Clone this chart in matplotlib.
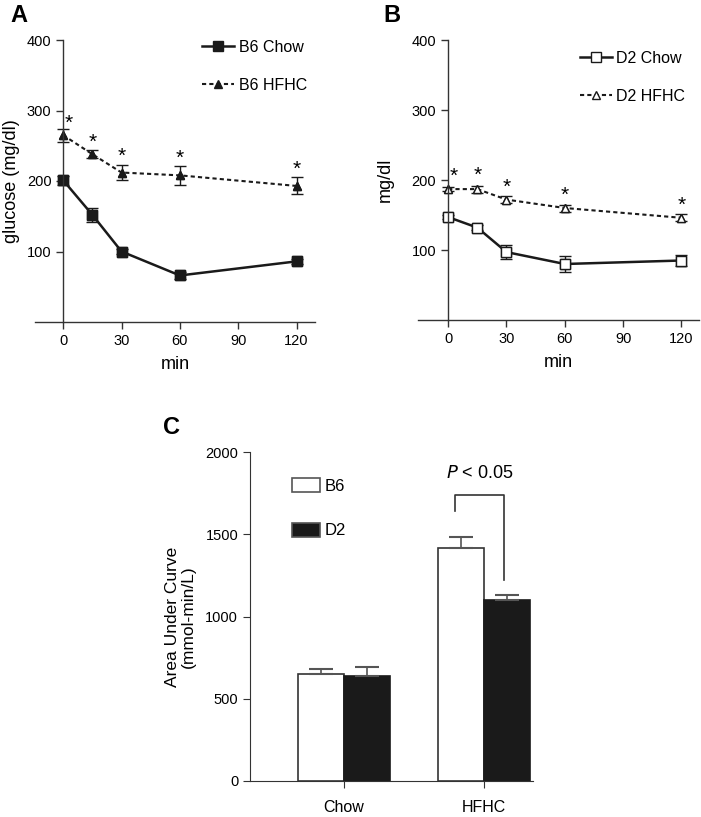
import numpy as np
import matplotlib.pyplot as plt

plt.rcParams['font.family'] = ['Liberation Sans', 'DejaVu Sans']

# time course (min)
t = [0, 15, 30, 60, 120]

# panel A: B6
b6_chow = [201, 152, 100, 66, 86]
b6_chow_err = [6, 10, 3, 5, 4]
b6_hfhc = [265, 238, 212, 208, 193]
b6_hfhc_err = [9, 6, 11, 13, 12]

# panel B: D2
d2_chow = [147, 132, 97, 80, 85]
d2_chow_err = [3, 4, 10, 12, 8]
d2_hfhc = [187, 187, 172, 160, 146]
d2_hfhc_err = [3, 5, 5, 5, 5]

# panel C: AUC
groups = ['Chow', 'HFHC']
auc_b6 = [650, 1417]
auc_b6_err = [30, 67]
auc_d2 = [638, 1098]
auc_d2_err = [55, 35]

fig = plt.figure(figsize=(7.01, 8.17), dpi=100)


def time_axes(ax, xlo, xhi):
    ax.set_xlim(xlo, xhi)
    ax.set_ylim(0, 400)
    ax.spines['top'].set_visible(False)
    ax.spines['right'].set_visible(False)
    ax.spines['left'].set_position(('data', 0))
    for s in ['left', 'bottom']:
        ax.spines[s].set_color('#333333')
        ax.spines[s].set_linewidth(1.0)
    ax.set_xticks([0, 30, 60, 90, 120])
    ax.set_yticks([100, 200, 300, 400])
    ax.tick_params(axis='both', labelsize=10.5, color='#333333', length=5,
                   width=1.0, direction='out')
    ax.set_xlabel('min', fontsize=13, labelpad=6)


def stars(ax, x, y, err):
    for xi, yi, ei in zip(x, y, err):
        ax.text(xi, yi + ei - 2, '*', ha='center', va='bottom', fontsize=15)


def draw_series(ax, y, err, marker, ms, mfc, ls, lw, label):
    ax.errorbar(t, y, yerr=err, color='#1a1a1a', marker=marker, ms=ms, mfc=mfc,
                ls='none', capsize=4, elinewidth=1, capthick=1)
    h, = ax.plot(t, y, color='#1a1a1a', marker=marker, ms=ms, mfc=mfc, ls=ls,
                 lw=lw, label=label)
    return h


# ---- A ----
axA = fig.add_axes([35 / 701, 1 - 322 / 817, 280 / 701, 282 / 817])
time_axes(axA, -14.5, 129.5)
draw_series(axA, b6_chow, b6_chow_err, 's', 6.5, '#1a1a1a', '-', 1.8, 'B6 Chow')
draw_series(axA, b6_hfhc, b6_hfhc_err, '^', 5.5, '#1a1a1a', (0, (2, 1.5)), 1.5, 'B6 HFHC')
stars(axA, [t[0] + 3] + t[1:], b6_hfhc, [6] + b6_hfhc_err[1:])
axA.set_ylabel('glucose (mg/dl)', fontsize=13)
axA.yaxis.set_label_coords(-0.055, 0.5)
axA.legend(loc='upper right', frameon=False, fontsize=11.5, handlelength=2.0,
           labelspacing=1.45, borderaxespad=0.1, handletextpad=0.3,
           bbox_to_anchor=(1.0, 1.03))

# ---- B ----
axB = fig.add_axes([418 / 701, 1 - 320 / 817, 281 / 701, 280 / 817])
time_axes(axB, -15.5, 129)
draw_series(axB, d2_chow, d2_chow_err, 's', 6.5, 'white', '-', 1.8, 'D2 Chow')
draw_series(axB, d2_hfhc, d2_hfhc_err, '^', 6, 'white', (0, (2, 1.5)), 1.5, 'D2 HFHC')
stars(axB, [t[0] + 3] + t[1:], d2_hfhc, [6, 8, 6, 6, 6])
axB.set_ylabel('mg/dl', fontsize=13)
axB.yaxis.set_label_coords(-0.085, 0.5)
axB.legend(loc='upper right', frameon=False, fontsize=11.5, handlelength=2.0,
           labelspacing=1.45, borderaxespad=0.1, handletextpad=0.3,
           bbox_to_anchor=(0.98, 0.99))

# ---- C ----
axC = fig.add_axes([250 / 701, 1 - 781 / 817, 283 / 701, 329 / 817])
xc = np.arange(len(groups))
w = 0.33
ekw = dict(elinewidth=1.2, ecolor='#555555', capsize=8.5, capthick=1.5)
axC.bar(xc - w / 2, auc_b6, w, yerr=[[0, 0], auc_b6_err], color='white',
        edgecolor='#333333', lw=1.2, error_kw=ekw, label='B6')
axC.bar(xc + w / 2, auc_d2, w, yerr=[[0, 0], auc_d2_err], color='#1a1a1a',
        edgecolor='#1a1a1a', lw=1.2, error_kw=ekw, label='D2')
axC.set_xlim(-0.67, 1.35)
axC.set_ylim(0, 2000)
axC.set_yticks([0, 500, 1000, 1500, 2000])
axC.set_xticks(xc)
axC.set_xticklabels(groups)
axC.spines['top'].set_visible(False)
axC.spines['right'].set_visible(False)
for s in ['left', 'bottom']:
    axC.spines[s].set_color('#333333')
axC.tick_params(axis='y', labelsize=10.5, color='#333333', length=5)
axC.tick_params(axis='x', labelsize=11.5, color='#333333', length=5, pad=9)
axC.set_ylabel('Area Under Curve\n(mmol-min/L)', fontsize=12.5, linespacing=1.1)
axC.yaxis.set_label_coords(-0.19, 0.5)
# significance bracket
bx0 = xc[1] - w / 2 - 0.04
bx1 = xc[1] + w / 2 - 0.02
axC.plot([bx0, bx0, bx1, bx1], [1640, 1740, 1740, 1220], color='#333333', lw=1.2)
axC.text((bx0 + bx1) / 2, 1815, r'$P$ < 0.05', ha='center', va='bottom', fontsize=13)
leg = axC.legend(loc='upper left', frameon=False, fontsize=12, handlelength=1.7,
                 handleheight=0.9, labelspacing=1.75, handletextpad=0.25,
                 bbox_to_anchor=(0.095, 0.967))
for p in leg.get_patches():
    p.set_edgecolor('#555555')

fig.text(10 / 701, 1 - 15 / 817, 'A', fontsize=17, fontweight='bold', va='center')
fig.text(383 / 701, 1 - 15 / 817, 'B', fontsize=17, fontweight='bold', va='center')
fig.text(163 / 701, 1 - 428 / 817, 'C', fontsize=17, fontweight='bold', va='center')

fig.savefig('out.png', dpi=100)
